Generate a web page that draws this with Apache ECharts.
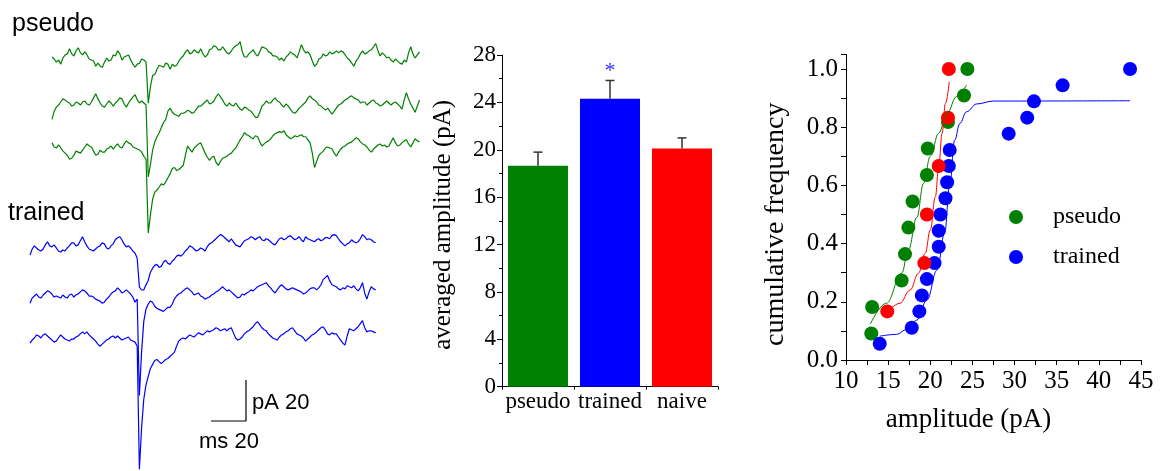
<!DOCTYPE html>
<html>
<head>
<meta charset="utf-8">
<title>mEPSC amplitude</title>
<script src="https://cdn.jsdelivr.net/npm/echarts/dist/echarts.min.js"></script>
<style>
  html, body { margin: 0; padding: 0; background: #fff; }
  #chart { width: 1161px; height: 471px; }
</style>
</head>
<body>
<div id="chart"></div>
<script>
// example sweeps, pA relative to each sweep's own baseline, one sample every 1.25 ms
const SAMPLE_MS = 1.25

const pseudoSweep1 = [0.5, -0.5, -2, -1, -3, 0, 1.5, 2, 4.5, 2,
  1, 3.5, 5, 2.5, 1.5, 3, 1.5, -0.5, -1, -1.5,
  -4, -2.5, -4, -4.5, -2, 0, -1.5, -1, 1.5, 1,
  3.5, 2, -1, 0.5, 1, 1.5, -1, -3, -4.5, -3,
  -2.5, -0.5, -1, -2, -22, -14, -8.5, -8, -5.5, -3.5,
  -4, -4.5, -2.5, -3, -5.5, -3, -4, -3.5, -1.5, 0,
  1, 3, 4, 2, 2.5, 4, 3, 2.5, 4.5, 2,
  0.5, 1.5, 4, 4.5, 6, 5.5, 4, 4, 5.5, 4,
  2.5, 2, 3.5, 5, 6, 6.5, 8, 3, 0.5, 0.5,
  2, 3, 4, 2, 1, 3, 5.5, 5, 4.5, 3,
  2.5, 1, 1, 0.5, -1, 0, -1.5, 0.5, 1.5, 3,
  2, 1.5, 0, 3, 6.5, 4, 2.5, 3, 1.5, -1.5,
  -4, -3, -0.5, 0, 2, 1, 1.5, 3, 2, 2.5,
  3.5, 2.5, 3.5, 3, 1.5, 0, -1, -2.5, -4, -1.5,
  0, 2, 3.5, 2, 2.5, 3.5, 4, 5.5, 7, 3.5,
  1, 2.5, 1.5, 0, 0.5, -1, -2, -0.5, -1.5, -2.5,
  -3, -1, -2, 2.5, 5.5, 2, 0, 1.5, 3]
const pseudoSweep2 = [-8, -4, -2, -1, 0.5, 2, 1.5, 0.5, 0, -1.5,
  -1, 0.5, 0, -1, 0.5, 1, -0.5, -1, 0.5, 2.5,
  4.5, 2, 0, -1.5, -2, -0.5, 1, 0, -1.5, 0,
  1, 2.5, 2, -0.5, -2, 0, 1.5, 3, 4, 1.5,
  0, 1, 0, -1, -36, -30, -23, -19, -16.5, -14.5,
  -12, -9.5, -8, -4, -2.5, -4.5, -5.5, -6, -6.5, -5,
  -5, -4.5, -3.5, -4, -5, -4.5, -3, -1.5, -1.5, -0.5,
  0.5, 1.5, -0.5, 0, 1, 3, 4.5, 3, 1.5, -0.5,
  -1.5, 0, -1, -1.5, 0, -1.5, -3, -3.5, -2, -2.5,
  -3.5, -4, -5.5, -7, -7, -4.5, -1.5, -0.5, 1, 0,
  0, 1.5, 2.5, 1, 0.5, -1, -2, -0.5, -1.5, -3,
  -4.5, -5, -4, -2.5, -1.5, -0.5, 0.5, 2.5, 3.5, 2,
  1.5, 0.5, -1, -1.5, -2.5, -3.5, -2.5, -4, -5.5, -4,
  -2.5, -1, -0.5, 0.5, 1.5, 2, 3, 3.5, 2.5, 2,
  1.5, 0, 0.5, 0.5, -1, 0, 1, 1.5, 0, -0.5,
  -1.5, -1, 0, 1, 0, -1, 0, 0.5, -0.5, -1.5,
  -3, 1.5, 5, 2, -0.5, -2.5, -4.5, -1.5, 1.5]
const pseudoSweep3 = [2, 0, -0.5, 1, -0.5, -2, -3, -4, -6, -5.5,
  -4, -2, -2.5, -3, -1.5, 0, 1.5, 0.5, 0, -2,
  -4, -3.5, -1.5, -2.5, -2.5, -1, -0.5, 0.5, -1, 0.5,
  1.5, 0, -0.5, 1.5, 3, 2, 1.5, 0, -0.5, -1,
  -1.5, -2.5, -4.5, -6, -42, -33, -25.5, -22, -21, -19.5,
  -18, -18.5, -17, -15, -13, -10.5, -10, -11.5, -11, -10,
  -9, -4, 0.5, -1, -2.5, -0.5, 0.5, 1.5, 2, -0.5,
  -3, -5, -6.5, -5, -4.5, -7.5, -9, -7, -5.5, -5,
  -4.5, -3.5, -3, -1.5, -0.5, 1.5, 3.5, 5, 7, 6,
  5.5, 4.5, 4, 5.5, 5, 2.5, 0.5, 1.5, 2.5, 3,
  4, 5.5, 6.5, 7, 7.5, 7, 8, 6, 5, 4,
  4.5, 5.5, 5, 5.5, 6, 5, 5, 3.5, 2, -3,
  -10, -7, -4, -3, -2, -0.5, 0, -0.5, -1, -3,
  -4.5, -2.5, -1, 0, 0.5, 1.5, 2, 2.5, 3.5, 4.5,
  4, 2.5, 1.5, 1, 0, -1.5, -2.5, -1, 0, 1,
  1.5, 0.5, 1, 0, 0.5, 2.5, 4.5, 2, 0.5, 1,
  2, 3, 3.5, 1.5, 0, 2, 4, 3, 2.5]

const trainedSweep1 = [-2.5, 0.5, 2, 1, 0, -0.5, 0.5, 2.5, 4, 2,
  1.5, 2.5, 1, -0.5, -1, 0, -0.5, 1, 2, 3.5,
  3.5, 2, 2.5, 4.5, 6.5, 4, 2, 0.5, 0, -0.5,
  0.5, 1.5, 2, 3.5, 3, 1, 0.5, 2, 3, 5,
  6, 6.5, 5, 3, 1.5, 2, 1, -0.5, -1.5, -4,
  -18, -19.5, -19.5, -17, -15, -11, -9, -7.5, -7, -8.5,
  -8, -6, -5, -6.5, -7, -5.5, -4.5, -3, -2.5, -3,
  -2, -0.5, 0.5, 2, 1.5, 0.5, -0.5, 0, 1, 0.5,
  -0.5, 1.5, 3, 3.5, 4.5, 5.5, 6.5, 7.5, 7, 6,
  5, 4, 5.5, 4, 2.5, 2, 1.5, 3, 4.5, 5,
  5.5, 6.5, 6, 5, 6, 6.5, 5, 4.5, 5.5, 5,
  4, 3, 2.5, 4, 5.5, 6, 5, 5.5, 6.5, 7,
  6, 5, 5.5, 6.5, 5, 4, 6.5, 5.5, 5, 4.5,
  4, 5, 5.5, 4.5, 5, 6, 6, 5.5, 7, 7.5,
  7, 5.5, 4, 3, 2, 3, 3.5, 5, 4, 3.5,
  4, 5.5, 7.5, 6.5, 5, 5.5, 5, 4, 3.5]
const trainedSweep2 = [-4, -1.5, -0.5, 0.5, -1, -1.5, 0, 1, 2, 1.5,
  0.5, -1, -0.5, -1, -1.5, 0, -1, -1.5, 0, 0.5,
  -1, 0, 0.5, 1.5, 2.5, 2, 1, -0.5, -0.5, -1,
  -2, -2.5, -3, -4, -3.5, -2, -1, 0.5, 1.5, 2,
  3.5, 2.5, 1, 1.5, 2.5, 1.5, 0.5, -1, -3.5, -2,
  -49, -28, -13, -7, -4.5, -3, -3.5, -5.5, -6.5, -7,
  -7.5, -8, -7, -6, -6, -4.5, -2, -0.5, 0.5, 1,
  2, 3, 3.5, 2.5, 1.5, 0, 0.5, 1, -0.5, -1,
  -2, -1.5, -1, 0, 0.5, 1.5, 2, 3, 4, 3,
  2, 2.5, 1.5, 0.5, -0.5, -1.5, -1, 0.5, 0, 1,
  1.5, 2.5, 2, 3, 4, 4.5, 5, 5.5, 6, 4.5,
  3.5, 2, 1, 2.5, 4, 5, 4, 3, 2.5, 3,
  3.5, 3, 2.5, 2, 1.5, 0.5, 1, 2, 3, 3.5,
  3.5, 2.5, 3.5, 5, 7.5, 8.5, 9.5, 7, 5, 4.5,
  4, 3, 2.5, 3.5, 3, 4.5, 4, 3.5, 4.5, 3,
  2, 3.5, 6, 1, -2, 1.5, 4, 3, 2.5]
const trainedSweep3 = [-2.5, -1, 0, 1.5, 1, 0, 1.5, 2, 1, 0,
  -1, -2, -1.5, 0, 1.5, 0.5, -0.5, -1, -1.5, -0.5,
  -0.5, 0.5, 1, 2, 3, 2, 3, 1.5, 0.5, -0.5,
  -1.5, -3, -4, -3, -2, -1, -0.5, 0.5, 1, 0,
  1, 0, -1, -0.5, 0, 0.5, -1, -1.5, -2, -4,
  -64, -44, -30, -23, -19, -15, -13, -11, -10.5, -11.5,
  -12.5, -11.5, -10.5, -10, -9, -8, -7, -4, -1.5, -0.5,
  0, -0.5, 0.5, 1.5, 1, 0.5, 1.5, 2.5, 2, 1.5,
  2.5, 3.5, 3, 3.5, 4, 5, 4.5, 3.5, 4, 4.5,
  3.5, 4.5, 5, 2.5, 0, -1, -0.5, 0.5, 2, 3,
  3.5, 4.5, 5.5, 7, 8, 6.5, 5, 4, 3.5, 2,
  1, 0, -0.5, -1, 0.5, 1.5, 2, 3, 3.5, 4.5,
  5, 3.5, 2, 1.5, 1, 0, -1.5, -0.5, 0.5, 1.5,
  2, 3, 4, 5, 5.5, 4, 2, 1.5, 2.5, 2,
  2, 0.5, -1, -2.5, -3.5, 1, 4.5, 4, 3.5, 4.5,
  5.5, 7, 8.5, 5, 3, 3.5, 3.5, 3, 2.5]

// scale bar
const scaleBarMs = 20
const scaleBarPa = 20

// averaged amplitude
const groups = ['pseudo', 'trained', 'naive']
const meanAmp = [18.65, 24.3, 20.1]
const semAmp = [1.15, 1.55, 0.9]
const signif = ['', '*', '']

// cumulative frequency: [amplitude pA, fraction]
const pseudoCum = [[13.0, 0.091], [13.1, 0.182], [16.6, 0.273], [17.0, 0.364], [17.4, 0.455],
  [17.9, 0.545], [19.6, 0.636], [19.7, 0.727], [22.1, 0.818], [24.0, 0.909], [24.4, 1.0]]
const naiveCum = [[14.9, 0.167], [19.3, 0.333], [19.6, 0.5], [21.0, 0.667], [22.1, 0.833], [22.2, 1.0]]
const trainedCum = [[14.0, 0.056], [17.8, 0.111], [18.7, 0.167], [19.0, 0.222], [19.6, 0.278],
  [20.5, 0.333], [21.0, 0.389], [21.0, 0.444], [21.2, 0.5], [21.8, 0.556], [22.0, 0.611],
  [22.2, 0.667], [22.3, 0.722], [29.3, 0.778], [31.5, 0.833], [32.3, 0.889], [35.7, 0.944], [43.7, 1.0]]

// fitted curves
const pseudoFit = [[12.9, 0.124], [14.8, 0.195], [16.6, 0.298], [17.4, 0.378], [18.4, 0.49],
  [19.2, 0.607], [20.0, 0.70], [21.0, 0.78], [22.0, 0.848], [23.1, 0.905], [24.3, 0.945]]
const naiveFit = [[14.8, 0.16], [16.4, 0.195], [17.6, 0.24], [18.6, 0.298], [19.4, 0.367],
  [20.0, 0.447], [20.6, 0.561], [21.0, 0.664], [21.4, 0.779], [21.8, 0.882], [22.25, 0.956]]
const trainedFit = [[14.0, 0.082], [16.0, 0.088], [17.2, 0.105], [18.4, 0.137], [19.6, 0.206],
  [20.8, 0.309], [21.7, 0.435], [22.3, 0.6], [22.9, 0.756], [23.5, 0.813], [24.3, 0.853],
  [25.5, 0.88], [27.5, 0.89], [43.7, 0.891]]

const GREEN = '#008000'
const BLUE = '#0000ff'
const RED = '#ff0000'
const SERIF = '"Liberation Serif", "Times New Roman", serif'
const SANS = '"Liberation Sans", Arial, sans-serif'

// trace panel geometry (pixels), converted to ms / pA below
const PX_PER_MS = 1.75
const PX_PER_PA = 2.05
const TRACE_W = 430
const TRACE_H = 471
const pseudoPlace = { left: 52, baselines: [58, 103, 147] }
const trainedPlace = { left: 30, baselines: [250, 295, 338] }
const scaleCorner = { x: 246, y: 421 }

function sweepSeries (sweeps, place, color) {
  return sweeps.map((sw, k) => ({
    type: 'line',
    xAxisIndex: 0,
    yAxisIndex: 0,
    showSymbol: false,
    silent: true,
    clip: false,
    lineStyle: { color: color, width: 1.2 },
    data: sw.map((v, i) => [place.left / PX_PER_MS + i * SAMPLE_MS, -place.baselines[k] / PX_PER_PA + v])
  }))
}

const cornerMs = scaleCorner.x / PX_PER_MS
const cornerPa = -scaleCorner.y / PX_PER_PA

const chart = echarts.init(document.getElementById('chart'), null, { renderer: 'canvas' })

chart.setOption({
  animation: false,
  backgroundColor: '#fff',
  textStyle: { fontFamily: SERIF, color: '#000' },
  grid: [
    { left: 0, top: 0, width: TRACE_W, height: TRACE_H },
    { left: 502, top: 55, width: 216, height: 331.7 },
    { left: 846, top: 54.5, width: 295, height: 305.5 }
  ],
  xAxis: [
    { gridIndex: 0, type: 'value', min: 0, max: TRACE_W / PX_PER_MS, show: false },
    {
      gridIndex: 1,
      type: 'category',
      data: groups,
      axisLine: { lineStyle: { color: '#000', width: 1 } },
      axisTick: { show: true, length: 3, lineStyle: { color: '#000' } },
      axisLabel: { interval: 0, color: '#000', fontFamily: SERIF, fontSize: 23, margin: 4 }
    },
    {
      gridIndex: 2,
      type: 'value',
      min: 10,
      max: 45,
      interval: 5,
      name: 'amplitude (pA)',
      nameLocation: 'middle',
      nameGap: 46,
      nameTextStyle: { fontFamily: SERIF, fontSize: 27, color: '#000', padding: [0, 50, 0, 0] },
      axisLine: { onZero: false, lineStyle: { color: '#000', width: 1 } },
      axisTick: { length: 5, lineStyle: { color: '#000' } },
      minorTick: { show: true, splitNumber: 2, length: 5, lineStyle: { color: '#000' } },
      splitLine: { show: false },
      axisLabel: { color: '#000', fontFamily: SERIF, fontSize: 25, margin: 9 }
    }
  ],
  yAxis: [
    { gridIndex: 0, type: 'value', min: -TRACE_H / PX_PER_PA, max: 0, show: false },
    {
      gridIndex: 1,
      type: 'value',
      min: 0,
      max: 28,
      interval: 4,
      name: 'averaged amplitude (pA)',
      nameLocation: 'middle',
      nameGap: 46,
      nameTextStyle: { fontFamily: SERIF, fontSize: 25, color: '#000', padding: [0, 8, 0, 0] },
      axisLine: { show: true, lineStyle: { color: '#000', width: 1 } },
      axisTick: { show: true, length: 5, lineStyle: { color: '#000' } },
      minorTick: { show: true, splitNumber: 2, length: 3, lineStyle: { color: '#000' } },
      splitLine: { show: false },
      axisLabel: { color: '#000', fontFamily: SERIF, fontSize: 23, margin: 6 }
    },
    {
      gridIndex: 2,
      type: 'value',
      min: 0,
      max: 1.05,
      interval: 0.1,
      name: 'cumulative frequency',
      nameLocation: 'middle',
      nameGap: 56,
      nameTextStyle: { fontFamily: SERIF, fontSize: 28, color: '#000', padding: [0, 34, 0, 0] },
      axisLine: { show: true, onZero: false, lineStyle: { color: '#000', width: 1 } },
      axisTick: { show: true, length: 5, lineStyle: { color: '#000' } },
      splitLine: { show: false },
      axisLabel: {
        color: '#000',
        fontFamily: SERIF,
        fontSize: 25,
        margin: 8,
        formatter: v => {
          const k = Math.round(v * 10)
          return (Math.abs(v * 10 - k) < 1e-6 && k % 2 === 0) ? (k / 10).toFixed(1) : ''
        }
      }
    }
  ],
  legend: {
    orient: 'vertical',
    left: 1009,
    top: 205,
    padding: 0,
    itemGap: 16,
    itemWidth: 14,
    itemHeight: 14,
    selectedMode: false,
    textStyle: { fontFamily: SERIF, fontSize: 24, color: '#000', lineHeight: 24, padding: [0, 0, 0, 25] },
    data: [
      { name: 'pseudo', icon: 'circle' },
      { name: 'trained', icon: 'circle' }
    ]
  },
  graphic: [
    { type: 'text', left: 12, top: 12, style: { text: 'pseudo', font: '25px ' + SANS, fill: '#000' } },
    { type: 'text', left: 8, top: 201, style: { text: 'trained', font: '25px ' + SANS, fill: '#000' } },
    { type: 'text', left: 252, top: 392, style: { text: 'pA 20', font: '22px ' + SANS, fill: '#000' } },
    { type: 'text', left: 199, top: 431, style: { text: 'ms 20', font: '22px ' + SANS, fill: '#000' } }
  ],
  series: [
    ...sweepSeries([pseudoSweep1, pseudoSweep2, pseudoSweep3], pseudoPlace, GREEN),
    ...sweepSeries([trainedSweep1, trainedSweep2, trainedSweep3], trainedPlace, BLUE),
    {
      type: 'line',
      xAxisIndex: 0,
      yAxisIndex: 0,
      showSymbol: false,
      silent: true,
      lineStyle: { color: '#000', width: 1.2 },
      data: [[cornerMs, cornerPa + scaleBarPa], [cornerMs, cornerPa], [cornerMs - scaleBarMs, cornerPa]]
    },
    {
      type: 'bar',
      xAxisIndex: 1,
      yAxisIndex: 1,
      barWidth: 60,
      data: meanAmp.map((v, i) => ({ value: v, itemStyle: { color: [GREEN, BLUE, RED][i] } }))
    },
    {
      type: 'custom',
      xAxisIndex: 1,
      yAxisIndex: 1,
      z: 5,
      renderItem: (params, api) => {
        const i = api.value(0)
        const base = api.coord([i, api.value(1)])
        const top = api.coord([i, api.value(1) + api.value(2)])
        const style = { stroke: '#333', lineWidth: 1.5 }
        const children = [
          { type: 'line', shape: { x1: base[0], y1: base[1], x2: top[0], y2: top[1] }, style: style },
          { type: 'line', shape: { x1: top[0] - 4.5, y1: top[1], x2: top[0] + 4.5, y2: top[1] }, style: style }
        ]
        if (signif[i]) {
          children.push({
            type: 'text',
            style: { text: signif[i], x: top[0], y: top[1] + 2, align: 'center', verticalAlign: 'bottom', font: '22px ' + SERIF, fill: '#3030ff' }
          })
        }
        return { type: 'group', children: children }
      },
      data: meanAmp.map((v, i) => [i, v, semAmp[i]])
    },
    {
      name: 'pseudo',
      type: 'line',
      xAxisIndex: 2,
      yAxisIndex: 2,
      smooth: 0.4,
      smoothMonotone: 'x',
      showSymbol: false,
      lineStyle: { color: GREEN, width: 1 },
      itemStyle: { color: GREEN },
      data: pseudoFit
    },
    {
      name: 'trained',
      type: 'line',
      xAxisIndex: 2,
      yAxisIndex: 2,
      smooth: 0.4,
      smoothMonotone: 'x',
      showSymbol: false,
      lineStyle: { color: BLUE, width: 1 },
      itemStyle: { color: BLUE },
      data: trainedFit
    },
    {
      name: 'naive',
      type: 'line',
      xAxisIndex: 2,
      yAxisIndex: 2,
      smooth: 0.4,
      smoothMonotone: 'x',
      showSymbol: false,
      lineStyle: { color: RED, width: 1 },
      itemStyle: { color: RED },
      data: naiveFit
    },
    {
      name: 'pseudo',
      type: 'scatter',
      xAxisIndex: 2,
      yAxisIndex: 2,
      symbolSize: 14,
      itemStyle: { color: GREEN, opacity: 1 },
      data: pseudoCum
    },
    {
      name: 'trained',
      type: 'scatter',
      xAxisIndex: 2,
      yAxisIndex: 2,
      symbolSize: 14,
      itemStyle: { color: BLUE, opacity: 1 },
      data: trainedCum
    },
    {
      name: 'naive',
      type: 'scatter',
      xAxisIndex: 2,
      yAxisIndex: 2,
      symbolSize: 14,
      itemStyle: { color: RED, opacity: 1 },
      data: naiveCum
    }
  ]
})
</script>
</body>
</html>
